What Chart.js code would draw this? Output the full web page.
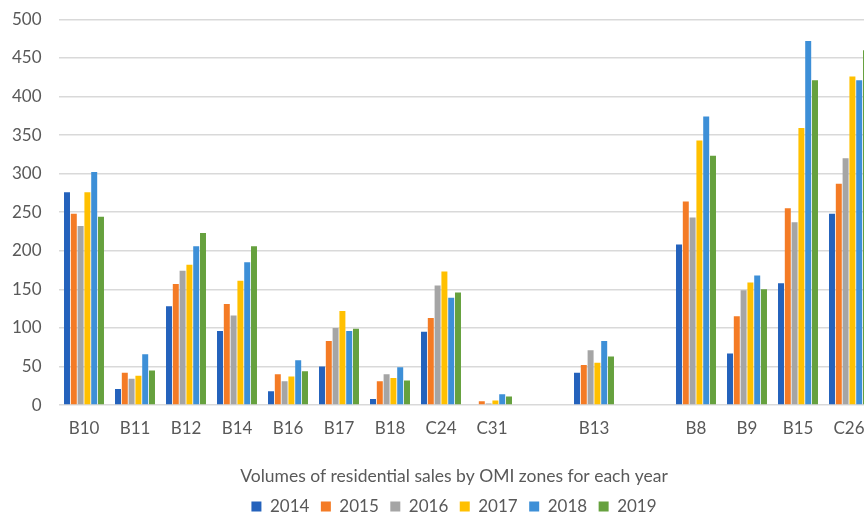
<!DOCTYPE html>
<html>
<head>
<meta charset="utf-8">
<script src="https://cdn.jsdelivr.net/npm/chart.js@4/dist/chart.umd.min.js"></script>
<style>
  html, body { margin: 0; padding: 0; background: #fff; overflow: hidden; }
  #wrap { width: 864px; height: 514px; overflow: hidden; }
</style>
</head>
<body>
<div id="wrap">
  <canvas id="salesChart" width="900" height="514"></canvas>
</div>
<script>
// OMI zones (blank slots keep the gaps between zone groups)
const zones = ['B10', 'B11', 'B12', 'B14', 'B16', 'B17', 'B18', 'C24', 'C31', '', 'B13', '', 'B8', 'B9', 'B15', 'C26'];
const years = ['2014', '2015', '2016', '2017', '2018', '2019'];

// residential sales per zone, one array per year
const sales2014 = [276, 21, 128, 96, 18, 50, 8, 95, 0, null, 42, null, 208, 67, 158, 248];
const sales2015 = [248, 42, 157, 131, 40, 83, 31, 113, 5, null, 52, null, 264, 115, 255, 287];
const sales2016 = [232, 34, 174, 116, 31, 100, 40, 155, 2, null, 71, null, 243, 149, 237, 320];
const sales2017 = [276, 38, 182, 161, 37, 122, 35, 173, 6, null, 55, null, 343, 159, 359, 426];
const sales2018 = [302, 66, 206, 185, 58, 96, 49, 139, 14, null, 83, null, 374, 168, 472, 421];
const sales2019 = [244, 45, 223, 206, 44, 99, 32, 146, 11, null, 63, null, 323, 150, 421, 460];

const yearColors = ['#2462bc', '#f47b25', '#a5a5a5', '#ffc000', '#3d8fd7', '#66a13e'];
const textColor = '#595959';
const fontFamily = 'Lato, "Open Sans", sans-serif';

const allSales = [sales2014, sales2015, sales2016, sales2017, sales2018, sales2019];

const ctx = document.getElementById('salesChart').getContext('2d');
new Chart(ctx, {
    type: 'bar',
    data: {
        labels: zones,
        datasets: years.map((y, i) => ({
            label: y,
            data: allSales[i],
            backgroundColor: yearColors[i],
            borderWidth: 0,
            barPercentage: 0.88,
            categoryPercentage: 0.8
        }))
    },
    options: {
        responsive: false,
        animation: false,
        devicePixelRatio: 1,
        layout: {
            padding: { left: 33.5, right: 25.5, top: 19.3, bottom: -11 }
        },
        scales: {
            x: {
                grid: { display: false },
                border: { display: false },
                ticks: {
                    color: textColor,
                    font: { family: fontFamily, size: 17 },
                    padding: 5,
                    autoSkip: false,
                    maxRotation: 0
                }
            },
            y: {
                min: 0,
                max: 500,
                clip: false,
                border: { display: false },
                grid: { color: '#d9d9d9', lineWidth: 1.5, drawTicks: false },
                ticks: {
                    stepSize: 50,
                    color: textColor,
                    font: { family: fontFamily, size: 17 },
                    padding: 17
                },
                // narrow axis box so the plot starts where the labels end;
                // labels are allowed to spill into the left padding
                afterFit: (axis) => {
                    axis.width = 25;
                    axis.paddingTop = 0;
                    axis.paddingBottom = 0;
                    axis._computeLabelArea = () => undefined;
                }
            }
        },
        plugins: {
            title: {
                display: true,
                text: 'Volumes of residential sales by OMI zones for each year',
                position: 'bottom',
                weight: 500,
                color: textColor,
                font: { family: fontFamily, size: 17.5, weight: 'normal' },
                padding: { top: 22, bottom: 0 }
            },
            legend: {
                position: 'bottom',
                labels: {
                    color: textColor,
                    font: { family: fontFamily, size: 17 },
                    boxWidth: 10,
                    boxHeight: 10,
                    padding: 11.5
                }
            },
            tooltip: { enabled: false }
        }
    }
});
</script>
</body>
</html>
